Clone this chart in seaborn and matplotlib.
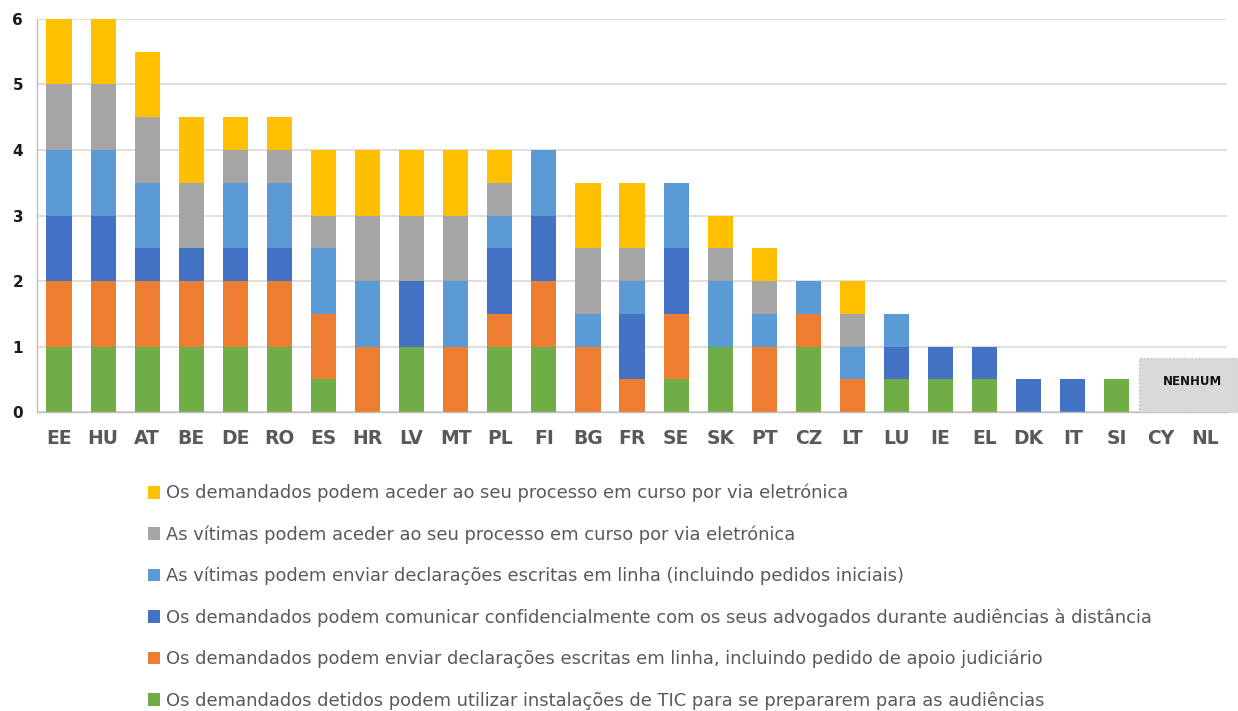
import numpy as np
import pandas as pd
import matplotlib
matplotlib.use("Agg")
import matplotlib.pyplot as plt
from matplotlib.patches import Rectangle
import seaborn as sns

countries = ["EE", "HU", "AT", "BE", "DE", "RO", "ES", "HR", "LV", "MT", "PL", "FI", "BG",
             "FR", "SE", "SK", "PT", "CZ", "LT", "LU", "IE", "EL", "DK", "IT", "SI", "CY", "NL"]

# Series stacked from the bottom up
detidos_tic = [1, 1, 1, 1, 1, 1, 0.5, 0, 1, 0, 1, 1, 0, 0, 0.5, 1, 0, 1, 0, 0.5, 0.5, 0.5, 0, 0, 0.5, 0, 0]
demandados_declaracoes = [1, 1, 1, 1, 1, 1, 1, 1, 0, 1, 0.5, 1, 1, 0.5, 1, 0, 1, 0.5, 0.5, 0, 0, 0, 0, 0, 0, 0, 0]
demandados_advogados = [1, 1, 0.5, 0.5, 0.5, 0.5, 0, 0, 1, 0, 1, 1, 0, 1, 1, 0, 0, 0, 0, 0.5, 0.5, 0.5, 0.5, 0.5, 0, 0, 0]
vitimas_declaracoes = [1, 1, 1, 0, 1, 1, 1, 1, 0, 1, 0.5, 1, 0.5, 0.5, 1, 1, 0.5, 0.5, 0.5, 0.5, 0, 0, 0, 0, 0, 0, 0]
vitimas_processo = [1, 1, 1, 1, 0.5, 0.5, 0.5, 1, 1, 1, 0.5, 0, 1, 0.5, 0, 0.5, 0.5, 0, 0.5, 0, 0, 0, 0, 0, 0, 0, 0]
demandados_processo = [1, 1, 1, 1, 0.5, 0.5, 1, 1, 1, 1, 0.5, 0, 1, 1, 0, 0.5, 0.5, 0, 0.5, 0, 0, 0, 0, 0, 0, 0, 0]

series_labels = [
    "Os demandados detidos podem utilizar instalações de TIC para se prepararem para as audiências",
    "Os demandados podem enviar declarações escritas em linha, incluindo pedido de apoio judiciário",
    "Os demandados podem comunicar confidencialmente com os seus advogados durante audiências à distância",
    "As vítimas podem enviar declarações escritas em linha (incluindo pedidos iniciais)",
    "As vítimas podem aceder ao seu processo em curso por via eletrónica",
    "Os demandados podem aceder ao seu processo em curso por via eletrónica",
]
series_values = [detidos_tic, demandados_declaracoes, demandados_advogados,
                 vitimas_declaracoes, vitimas_processo, demandados_processo]
series_colors = ["#70AD47", "#ED7D31", "#4472C4", "#5B9BD5", "#A5A5A5", "#FFC000"]

none_label = "NENHUM"

sns.set_theme(style="white")
plt.rcParams["font.family"] = ["DejaVu Sans"]

fig = plt.figure(figsize=(12.38, 7.11), dpi=100)
ax = fig.add_axes([0.0299, 0.4205, 0.9613, 0.5528])

bottom = np.zeros(len(countries))
for label, vals, color in zip(series_labels, series_values, series_colors):
    df = pd.DataFrame({"country": countries, "value": vals})
    sns.barplot(data=df, x="country", y="value", order=countries, color=color,
                saturation=1, width=0.57, bottom=bottom.copy(), linewidth=0,
                label=label, ax=ax, errorbar=None)
    bottom += np.array(vals)

h, l = ax.get_legend_handles_labels()
if ax.get_legend() is not None:
    ax.get_legend().remove()

ax.set_xlim(-0.5, len(countries) - 0.5)
ax.set_ylim(0, 6)
ax.set_yticks(range(0, 7))
ax.set_xlabel("")
ax.set_ylabel("")
ax.grid(axis="y", color="#D9D9D9", linewidth=1.2)
ax.set_axisbelow(True)
for s in ["top", "right"]:
    ax.spines[s].set_visible(False)
for s in ["left", "bottom"]:
    ax.spines[s].set_color("#BFBFBF")
    ax.spines[s].set_linewidth(1.0)

ax.tick_params(axis="y", length=4, color="#BFBFBF", labelsize=11, labelcolor="#1a1a1a", pad=6)
for t in ax.get_yticklabels():
    t.set_fontweight("bold")
ax.set_xticks(range(len(countries)))
ax.set_xticklabels(countries, fontsize=13.5, color="#595959", fontweight="bold")
ax.tick_params(axis="x", length=0, pad=12)
# separator ticks between categories
ax.set_xticks(np.arange(-0.5, len(countries), 1), minor=True)
ax.tick_params(axis="x", which="minor", length=5, color="#BFBFBF", width=1)

# Box marking the countries with no measures
zero_idx = [i for i, t in enumerate(bottom) if t == 0]
x0 = min(zero_idx) - 0.5
box_w = len(countries) - 0.5 - x0 + 0.25
box = Rectangle((x0, 0), box_w, 0.83, facecolor="#D9D9D9",
                edgecolor="#BFBFBF", linestyle=":", linewidth=1, clip_on=False, zorder=3)
ax.add_patch(box)
ax.text(x0 + box_w / 2 + 0.08, 0.46, none_label, ha="center", va="center",
        fontsize=8.5, fontweight="bold", color="#111111", zorder=4)

leg = fig.legend(h[::-1], l[::-1], loc="upper left", bbox_to_anchor=(0.1195, 1 - 484 / 711),
                 frameon=False, fontsize=12.9, labelcolor="#595959", handlelength=0.7,
                 handleheight=0.7, handletextpad=0.3, labelspacing=1.28, borderaxespad=0,
                 borderpad=0)

fig.savefig("out.png", dpi=100)
